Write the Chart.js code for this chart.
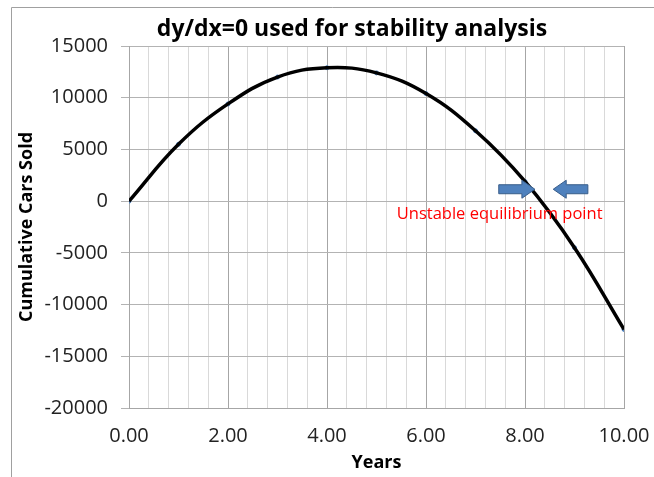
<!DOCTYPE html>
<html>
<head>
<meta charset="utf-8">
<script src="https://cdn.jsdelivr.net/npm/chart.js@4"></script>
<style>
  html, body { margin: 0; padding: 0; background: #fff; }
  #wrap { width: 654px; height: 477px; }
</style>
</head>
<body>
<div id="wrap"><canvas id="stabilityChart" width="654" height="477"></canvas></div>
<script>
const chartTitle = 'dy/dx=0 used for stability analysis';
const xTitle = 'Years';
const yTitle = 'Cumulative Cars Sold';
const noteText = 'Unstable equilibrium point';

// values
const years = [0, 1, 2, 3, 4, 5, 6, 7, 8, 9, 10];
const carsSold = [0, 5500, 9400, 12000, 12900, 12400, 10400, 6800, 1900, -4500, -12400];

// where the note and arrows sit, in data units
const noteAt = { x: 5.41, y: -1250 };
const arrowY = 1150;
const rightArrow = { from: 7.47, to: 8.2 };
const leftArrow = { from: 9.27, to: 8.57 };

const points = years.map((x, i) => ({ x: x, y: carsSold[i] }));

function isMajor(v) {
  return Math.abs(v / 2 - Math.round(v / 2)) < 1e-6;
}

function drawArrow(ctx, x0, x1, y) {
  const dir = x1 > x0 ? 1 : -1;
  const headLen = 13;
  const bodyH = 4.5;
  const headH = 9;
  const xb = x1 - dir * headLen;
  ctx.beginPath();
  ctx.moveTo(x0, y - bodyH);
  ctx.lineTo(xb, y - bodyH);
  ctx.lineTo(xb, y - headH);
  ctx.lineTo(x1, y);
  ctx.lineTo(xb, y + headH);
  ctx.lineTo(xb, y + bodyH);
  ctx.lineTo(x0, y + bodyH);
  ctx.closePath();
  ctx.fillStyle = '#4f81bd';
  ctx.fill();
  ctx.lineWidth = 1;
  ctx.strokeStyle = '#385d8a';
  ctx.stroke();
}

const extras = {
  id: 'extras',
  beforeDraw(chart) {
    const ctx = chart.ctx;
    ctx.save();
    ctx.strokeStyle = '#a0a0a0';
    ctx.lineWidth = 1;
    ctx.beginPath();
    ctx.moveTo(11.5, 477);
    ctx.lineTo(11.5, 7.5);
    ctx.lineTo(654, 7.5);
    ctx.stroke();
    ctx.restore();
  },
  afterDraw(chart) {
    const ctx = chart.ctx;
    const xs = chart.scales.x;
    const ys = chart.scales.y;
    ctx.save();
    ctx.fillStyle = '#000';
    ctx.font = 'bold 23px "Open Sans"';
    ctx.textAlign = 'center';
    ctx.textBaseline = 'middle';
    ctx.fillText(chartTitle, 352, 29);

    const ay = ys.getPixelForValue(arrowY);
    drawArrow(ctx, xs.getPixelForValue(rightArrow.from), xs.getPixelForValue(rightArrow.to), ay);
    drawArrow(ctx, xs.getPixelForValue(leftArrow.from), xs.getPixelForValue(leftArrow.to), ay);

    ctx.fillStyle = '#ff0000';
    ctx.font = '16.5px "Open Sans"';
    ctx.textAlign = 'left';
    ctx.fillText(noteText, xs.getPixelForValue(noteAt.x), ys.getPixelForValue(noteAt.y));
    ctx.restore();
  }
};

new Chart(document.getElementById('stabilityChart'), {
  type: 'scatter',
  data: {
    datasets: [{
      label: 'trend',
      data: points,
      showLine: true,
      borderColor: '#000',
      borderWidth: 3.5,
      tension: 0.4,
      pointRadius: 0,
      fill: false
    }, {
      label: 'cars',
      data: points,
      showLine: false,
      pointRadius: 2,
      pointBackgroundColor: '#4f81bd',
      pointBorderColor: '#4f81bd'
    }]
  },
  options: {
    responsive: false,
    animation: false,
    layout: { padding: { left: 11, top: 46, right: 30, bottom: 0 } },
    plugins: {
      legend: { display: false },
      tooltip: { enabled: false }
    },
    scales: {
      x: {
        type: 'linear',
        min: 0,
        max: 10,
        afterFit: s => { s.height = 69; s.paddingRight = 0; },
        border: { color: '#a6a6a6' },
        grid: {
          drawTicks: false,
          color: c => (c.tick && isMajor(c.tick.value)) ? '#a6a6a6' : '#d9d9d9'
        },
        ticks: {
          stepSize: 0.4,
          autoSkip: false,
          maxRotation: 0,
          padding: 16,
          color: '#222',
          font: { family: 'Open Sans', size: 20 },
          callback: v => isMajor(v) ? v.toFixed(2) : ''
        },
        title: {
          display: true,
          text: xTitle,
          color: '#000',
          font: { family: 'Open Sans', size: 18, weight: 'bold' },
          padding: { top: 0, bottom: 3 }
        }
      },
      y: {
        min: -20000,
        max: 15000,
        afterFit: s => { s.width = 118; },
        border: { color: '#a6a6a6' },
        grid: { color: '#b3b3b3', tickLength: 8 },
        ticks: {
          stepSize: 5000,
          padding: 13,
          color: '#222',
          font: { family: 'Open Sans', size: 20 },
          callback: v => String(v)
        },
        title: {
          display: true,
          text: yTitle,
          color: '#000',
          font: { family: 'Open Sans', size: 18, weight: 'bold' },
          padding: { top: 5, bottom: 0 }
        }
      }
    }
  },
  plugins: [extras]
});
</script>
</body>
</html>
